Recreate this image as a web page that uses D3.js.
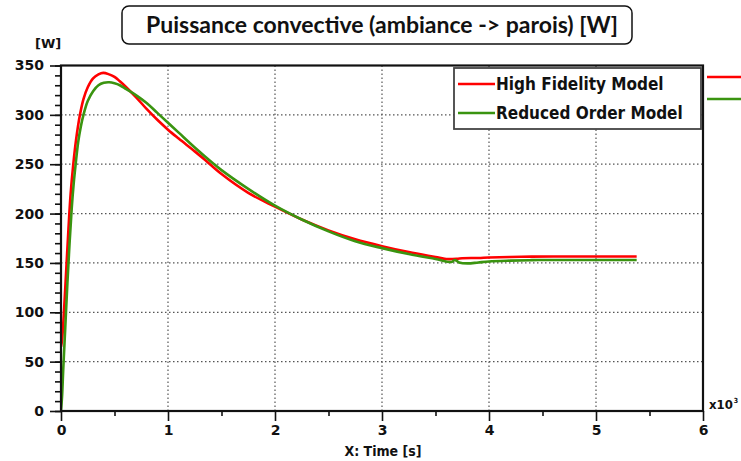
<!DOCTYPE html>
<html>
<head>
<meta charset="utf-8">
<script src="https://cdn.jsdelivr.net/npm/d3@7"></script>
<style>
  html, body { margin: 0; padding: 0; background: #fff; }
  svg { display: block; }
</style>
</head>
<body>
<script>
// ---- data ----
const titleText = "Puissance convective (ambiance -> parois) [W]";
const seriesNames = ["High Fidelity Model", "Reduced Order Model"];
const seriesColors = ["#ff0000", "#3a9410"];

const hfTime = [0, 0.01, 0.03, 0.05, 0.07, 0.09, 0.115, 0.14, 0.177, 0.21, 0.25, 0.3, 0.35, 0.395, 0.45, 0.5, 0.55, 0.6, 0.7, 0.8, 0.9, 1.0, 1.1, 1.25, 1.35, 1.5, 1.75, 2.0, 2.25, 2.5, 2.75, 3.0, 3.25, 3.5, 3.6, 3.7, 3.75, 3.9, 4.0, 4.3, 4.6, 5.0, 5.38];
const hfValue = [65, 72, 105, 145, 185, 220, 250, 274, 300, 316, 328, 337, 341, 342.5, 341, 338.5, 334, 329, 318, 306, 295, 285, 276, 263, 254, 240, 221, 207, 194, 183, 174, 167, 161, 156, 154, 154.2, 154.8, 155, 155.5, 156.3, 156.5, 156.5, 156.5];

const romTime = [0, 0.01, 0.02, 0.04, 0.06, 0.08, 0.1, 0.12, 0.137, 0.16, 0.185, 0.21, 0.25, 0.3, 0.35, 0.4, 0.45, 0.5, 0.55, 0.61, 0.7, 0.8, 0.9, 1.0, 1.1, 1.25, 1.42, 1.5, 1.75, 2.0, 2.25, 2.5, 2.75, 3.0, 3.25, 3.5, 3.65, 3.68, 3.72, 3.8, 3.9, 4.0, 4.2, 4.4, 4.6, 5.0, 5.38];
const romValue = [0, 15, 40, 85, 130, 170, 205, 232, 250, 272, 288, 300, 314, 324, 330, 332.5, 333, 332, 330, 326, 320, 312, 302, 292, 282, 267, 251, 244, 225, 208, 194, 182, 172, 165, 159, 154, 151, 153, 150.5, 149.5, 150.5, 151.5, 152.3, 152.8, 153, 153, 153];

const xTicks = [0, 1, 2, 3, 4, 5, 6];
const xMinorTicks = [0.5, 1.5, 2.5, 3.5, 4.5, 5.5];
const yTicks = [0, 50, 100, 150, 200, 250, 300, 350];
const yMinorTicks = d3.range(0, 351, 10);
const xGrid = [1, 2, 3, 4, 5];
const yGrid = [50, 100, 150, 200, 250, 300];
const yUnit = "[W]";
const xLabel = "X: Time [s]";
const xMultiplier = "x10";
const xExponent = "3";

// ---- layout ----
const W = 741, H = 461;
const plot = { left: 61, right: 703, top: 65.5, bottom: 411 };

const svg = d3.select("body").append("svg").attr("width", W).attr("height", H);

const x = d3.scaleLinear().domain([0, 6]).range([plot.left, plot.right]);
const y = d3.scaleLinear().domain([0, 350]).range([plot.bottom, plot.top]);

const labelFont = "'DejaVu Sans', Verdana, sans-serif";
const condFont = "'DejaVu Sans Condensed', 'DejaVu Sans', sans-serif";

// title box
const tb = svg.append("g");
tb.append("rect").attr("x", 122).attr("y", 6).attr("width", 510).attr("height", 38)
  .attr("rx", 7).attr("fill", "#fff").attr("stroke", "#111").attr("stroke-width", 1.5);
tb.append("text").attr("x", 382).attr("y", 33).attr("text-anchor", "middle")
  .attr("font-family", "Lato, 'Open Sans', sans-serif").attr("font-weight", "bold")
  .attr("font-size", 23).attr("fill", "#111").text(titleText);

// grid
const grid = svg.append("g").attr("stroke", "#555").attr("stroke-width", 1.2)
  .attr("stroke-dasharray", "1.5,2.5");
grid.selectAll("line.gx").data(xGrid).join("line").attr("class", "gx")
  .attr("x1", d => x(d)).attr("x2", d => x(d)).attr("y1", plot.top).attr("y2", plot.bottom);
grid.selectAll("line.gy").data(yGrid).join("line").attr("class", "gy")
  .attr("y1", d => y(d)).attr("y2", d => y(d)).attr("x1", plot.left).attr("x2", plot.right);

// curves
svg.append("clipPath").attr("id", "clip").append("rect")
  .attr("x", plot.left).attr("y", plot.top).attr("width", plot.right - plot.left).attr("height", plot.bottom - plot.top);

const line = d3.line().x(d => x(d[0])).y(d => y(d[1])).curve(d3.curveCatmullRom.alpha(0.5));
const hf = hfTime.map((t, i) => [t, hfValue[i]]);
const rom = romTime.map((t, i) => [t, romValue[i]]);

const curves = svg.append("g").attr("clip-path", "url(#clip)");
curves.append("path").datum(hf).attr("d", line).attr("fill", "none")
  .attr("stroke", seriesColors[0]).attr("stroke-width", 2.6);
curves.append("path").datum(rom).attr("d", line).attr("fill", "none")
  .attr("stroke", seriesColors[1]).attr("stroke-width", 2.6);

// axes
const xAxis = d3.axisBottom(x).tickValues(xTicks).tickFormat(d3.format("d")).tickSize(10).tickPadding(4);
const xAxisMinor = d3.axisBottom(x).tickValues(xMinorTicks).tickFormat("").tickSize(5);
const yAxis = d3.axisLeft(y).tickValues(yTicks).tickFormat(d3.format("d")).tickSize(11).tickPadding(6);
const yAxisMinor = d3.axisLeft(y).tickValues(yMinorTicks).tickFormat("").tickSize(6);

function styleAxis(g) {
  g.select(".domain").remove();
  g.selectAll("line").attr("stroke", "#111").attr("stroke-width", 1.6);
  g.selectAll("text").attr("font-family", labelFont).attr("font-weight", "bold")
    .attr("font-size", 14).attr("fill", "#111");
}

svg.append("g").attr("transform", `translate(0,${plot.bottom})`).call(xAxisMinor).call(styleAxis);
svg.append("g").attr("transform", `translate(0,${plot.bottom})`).call(xAxis).call(styleAxis);
svg.append("g").attr("transform", `translate(${plot.left},0)`).call(yAxisMinor).call(styleAxis);
svg.append("g").attr("transform", `translate(${plot.left},0)`).call(yAxis).call(styleAxis);

// frame
svg.append("rect").attr("x", plot.left).attr("y", plot.top)
  .attr("width", plot.right - plot.left).attr("height", plot.bottom - plot.top)
  .attr("fill", "none").attr("stroke", "#111").attr("stroke-width", 2.2);

// axis labels
svg.append("text").attr("x", 35).attr("y", 48).attr("font-family", labelFont)
  .attr("font-weight", "bold").attr("font-size", 13).attr("fill", "#111").text(yUnit);
svg.append("text").attr("x", 383).attr("y", 456).attr("text-anchor", "middle")
  .attr("font-family", condFont).attr("font-weight", "bold").attr("font-size", 14)
  .attr("fill", "#111").text(xLabel);
const mult = svg.append("text").attr("x", 709).attr("y", 409).attr("font-family", condFont)
  .attr("font-weight", "bold").attr("font-size", 13).attr("fill", "#111");
mult.append("tspan").text(xMultiplier);
mult.append("tspan").attr("dy", -6).attr("dx", 1).attr("font-size", 7).text(xExponent);

// legend
const lg = svg.append("g");
lg.append("rect").attr("x", 454).attr("y", 68).attr("width", 247).attr("height", 61)
  .attr("fill", "#fff").attr("stroke", "#444").attr("stroke-width", 1.8);
const entries = lg.selectAll("g.entry").data(seriesNames).join("g").attr("class", "entry")
  .attr("transform", (d, i) => `translate(0,${84 + i * 29})`);
entries.append("line").attr("x1", 458).attr("x2", 495).attr("y1", 0).attr("y2", 0)
  .attr("stroke", (d, i) => seriesColors[i]).attr("stroke-width", 2.5);
entries.append("text").attr("x", 496).attr("y", 6).attr("font-family", condFont)
  .attr("font-weight", "bold").attr("font-size", 17).attr("fill", "#111").text(d => d);

// clipped duplicate legend lines at right edge
svg.selectAll("line.outer").data(seriesColors).join("line").attr("class", "outer")
  .attr("x1", 707).attr("x2", 741).attr("y1", (d, i) => 77 + i * 22).attr("y2", (d, i) => 77 + i * 22)
  .attr("stroke", d => d).attr("stroke-width", 2.5);
</script>
</body>
</html>
